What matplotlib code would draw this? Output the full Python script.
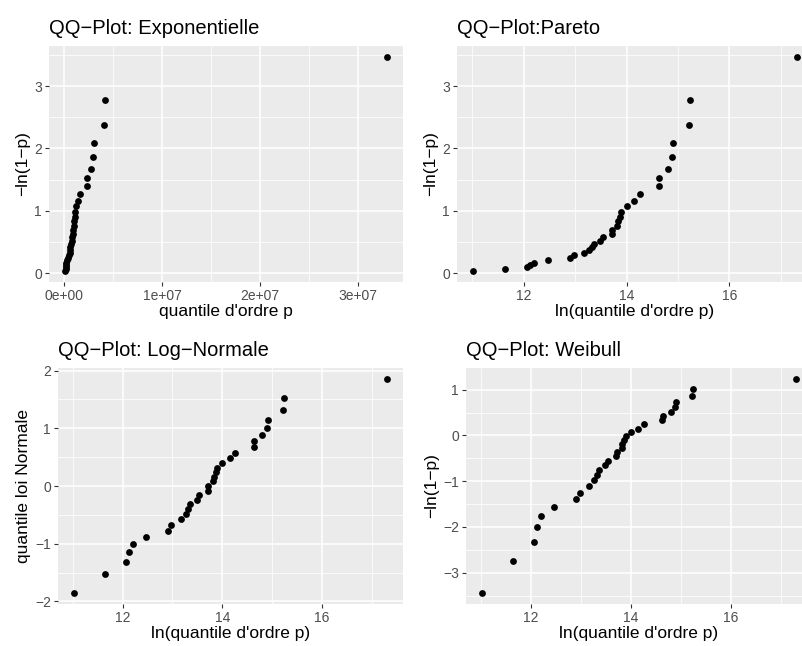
import numpy as np
import matplotlib
matplotlib.use("Agg")
import matplotlib.pyplot as plt
from matplotlib.ticker import MultipleLocator

plt.rcParams['font.family'] = ['Liberation Sans', 'DejaVu Sans']
plt.rcParams['axes.unicode_minus'] = True

ln_q = [11.02, 11.64, 12.07, 12.13, 12.20, 12.47, 12.91, 12.98, 13.17, 13.27,
        13.32, 13.36, 13.49, 13.54, 13.71, 13.72, 13.82, 13.83, 13.87, 13.90,
        14.00, 14.15, 14.26, 14.63, 14.64, 14.80, 14.89, 14.91, 15.22, 15.24,
        17.31]
quantile = np.exp(ln_q)

# -ln(1-p)
y_expo = [0.03, 0.06, 0.10, 0.13, 0.17, 0.21, 0.25, 0.29, 0.33, 0.37,
          0.42, 0.47, 0.52, 0.58, 0.63, 0.69, 0.76, 0.83, 0.90, 0.98,
          1.07, 1.16, 1.27, 1.39, 1.52, 1.67, 1.86, 2.08, 2.37, 2.77,
          3.47]
# quantile loi Normale
y_norm = [-1.86, -1.53, -1.32, -1.15, -1.01, -0.89, -0.78, -0.67, -0.58, -0.49,
          -0.40, -0.32, -0.24, -0.16, -0.08, 0.00, 0.08, 0.16, 0.24, 0.32,
          0.40, 0.49, 0.58, 0.67, 0.78, 0.89, 1.01, 1.15, 1.32, 1.53,
          1.86]
# ln(-ln(1-p))
y_weib = [-3.45, -2.74, -2.32, -2.01, -1.77, -1.57, -1.40, -1.25, -1.11, -0.98,
          -0.86, -0.76, -0.65, -0.55, -0.46, -0.37, -0.28, -0.19, -0.10, -0.02,
          0.07, 0.15, 0.24, 0.33, 0.42, 0.52, 0.62, 0.73, 0.86, 1.02,
          1.24]

W, H = 802, 646
fig = plt.figure(figsize=(W / 100, H / 100), dpi=100)


def panneau(box, x, y, titre, xlab, ylab, xmaj, ymaj, xfmt=None):
    l, t, r, b = box
    ax = fig.add_axes([l / W, 1 - b / H, (r - l) / W, (b - t) / H])
    ax.set_facecolor('#EBEBEB')
    ax.scatter(x, y, s=24, color='black', linewidths=0, zorder=3)
    ax.margins(0.05)
    ax.xaxis.set_major_locator(MultipleLocator(xmaj))
    ax.yaxis.set_major_locator(MultipleLocator(ymaj))
    ax.xaxis.set_minor_locator(MultipleLocator(xmaj / 2))
    ax.yaxis.set_minor_locator(MultipleLocator(ymaj / 2))
    if xfmt is not None:
        ax.xaxis.set_major_formatter(xfmt)
    ax.grid(True, which='major', color='white', linewidth=1.1, zorder=0)
    ax.grid(True, which='minor', color='white', linewidth=0.55, zorder=0)
    ax.set_axisbelow(True)
    for s in ax.spines.values():
        s.set_visible(False)
    ax.tick_params(which='major', length=3, width=0.8, color='#333333',
                   labelsize=10, labelcolor='#4D4D4D', pad=2)
    ax.tick_params(which='minor', length=0)
    ax.set_title(titre, loc='left', fontsize=14.5, pad=9)
    ax.set_xlabel(xlab, fontsize=12.5, labelpad=1)
    ax.set_ylabel(ylab, fontsize=12.5, labelpad=3)
    return ax


def sci(v, pos):
    if v == 0:
        return '0e+00'
    e = int(np.floor(np.log10(abs(v))))
    return f'{v / 10**e:.0f}e+{e:02d}'


panneau((49, 46, 403, 282), quantile, y_expo, 'QQ\u2212Plot: Exponentielle',
        "quantile d'ordre p", '\u2212ln(1\u2212p)', 1e7, 1, plt.FuncFormatter(sci))
panneau((457, 46, 813, 282), ln_q, y_expo, 'QQ\u2212Plot:Pareto',
        "ln(quantile d'ordre p)", '\u2212ln(1\u2212p)', 2, 1)
panneau((58, 368, 403, 604), ln_q, y_norm, 'QQ\u2212Plot: Log\u2212Normale',
        "ln(quantile d'ordre p)", 'quantile loi Normale', 2, 1)
panneau((466, 368, 812, 604), ln_q, y_weib, 'QQ\u2212Plot: Weibull',
        "ln(quantile d'ordre p)", '\u2212ln(1\u2212p)', 2, 1)

fig.savefig('out.png', dpi=100)
